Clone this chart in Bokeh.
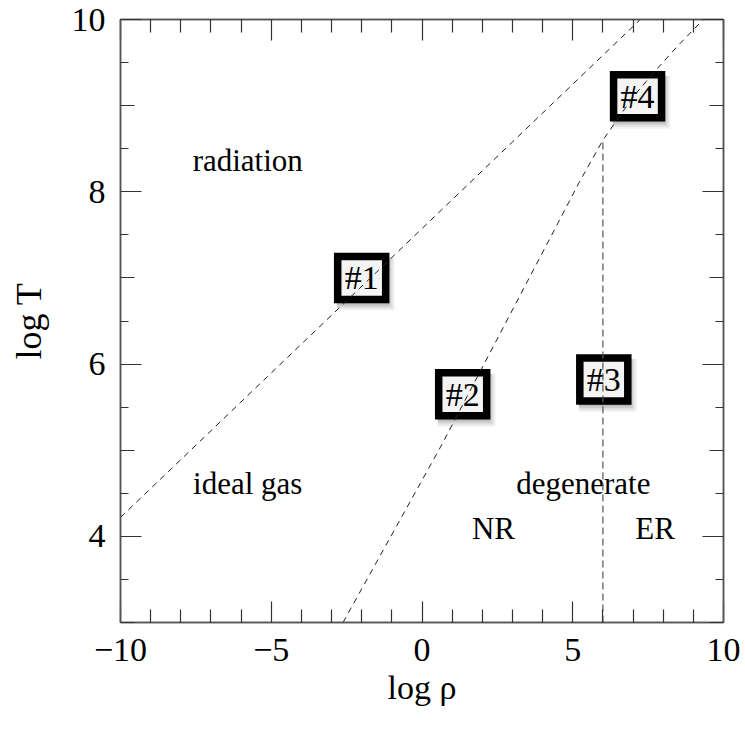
from bokeh.plotting import figure
from bokeh.models import LinearAxis, FixedTicker, Range1d, ColumnDataSource, CustomJSTickFormatter
from bokeh.core.properties import value
from bokeh.embed import file_html
from bokeh.resources import INLINE

# ---- data ----
x_major = [-10, -5, 0, 5, 10]
x_minor = [-9, -8, -7, -6, -4, -3, -2, -1, 1, 2, 3, 4, 6, 7, 8, 9]
y_major = [4, 6, 8, 10]
y_mid = [3, 5, 7, 9]
y_minor = [3.5, 4.5, 5.5, 6.5, 7.5, 8.5, 9.5]

# radiation / ideal gas boundary
lineA_x = [-10.0, 7.24]
lineA_y = [4.22, 10.0]
# ideal gas / degenerate boundary
lineB_x = [-2.62, 0.65, 4.2, 5.2, 6.0, 6.4, 7.0, 7.7, 8.5, 9.33]
lineB_y = [3.0, 5.06, 7.43, 8.1, 8.6, 8.8, 9.1, 9.39, 9.7, 10.0]
# NR / ER boundary
lineC_x = [6.0, 6.0]
lineC_y = [3.0, 8.6]

region_text = ["radiation", "ideal gas", "degenerate", "NR", "ER"]
region_x = [-5.78, -5.78, 5.35, 2.37, 7.73]
region_y = [8.36, 4.61, 4.61, 4.09, 4.09]

box_text = ["#1", "#2", "#3", "#4"]
box_x = [-2.0, 1.35, 6.03, 7.15]
box_y = [7.0, 5.65, 5.82, 9.11]

FONT_NAME = "Liberation Serif"
FONT = value(FONT_NAME)
TICK_COLOR = "#333333"
FRAME_COLOR = "#555555"

p = figure(width=745, height=730, x_range=Range1d(-10, 10), y_range=Range1d(3, 10),
           output_backend="svg", toolbar_location=None, y_axis_location=None,
           min_border_left=120, min_border_right=22, min_border_top=19, min_border_bottom=108)
p.grid.visible = False
p.outline_line_color = FRAME_COLOR
p.outline_line_width = 1.5
p.background_fill_color = "white"


def style_ticks(ax, major_in, minor_in):
    ax.major_tick_in = major_in
    ax.major_tick_out = 0
    ax.minor_tick_in = minor_in
    ax.minor_tick_out = 0
    ax.major_tick_line_color = TICK_COLOR
    ax.minor_tick_line_color = TICK_COLOR
    ax.major_tick_line_width = 1.2
    ax.minor_tick_line_width = 1.2


def blank_labels(ax):
    ax.formatter = CustomJSTickFormatter(code="return ''")
    ax.major_label_text_font_size = "1px"
    ax.major_label_standoff = 0
    ax.axis_label = None


# bottom (labelled)
xa = p.xaxis[0]
xa.ticker = FixedTicker(ticks=x_major, minor_ticks=x_minor)
style_ticks(xa, 21, 13)
xa.axis_line_color = FRAME_COLOR
xa.axis_line_width = 1.5
xa.major_label_text_font = FONT_NAME
xa.major_label_text_font_size = "34px"
xa.major_label_text_color = "black"
xa.major_label_standoff = 16
xa.axis_label = "log ρ"
xa.axis_label_text_font = FONT_NAME
xa.axis_label_text_font_style = "normal"
xa.axis_label_text_font_size = "34px"
xa.axis_label_text_color = "black"
xa.axis_label_standoff = 5
xa.major_label_overrides = {-10: "−10", -5: "−5"}

# top (mirror)
ta = LinearAxis(ticker=FixedTicker(ticks=x_major, minor_ticks=x_minor))
style_ticks(ta, 21, 13)
blank_labels(ta)
ta.axis_line_color = FRAME_COLOR
ta.axis_line_width = 1.5
p.add_layout(ta, "above")

# left/right: inner medium ticks (zero size), then the outer axes
for side in ["left", "right"]:
    mid = LinearAxis(ticker=FixedTicker(ticks=y_mid, minor_ticks=[]))
    style_ticks(mid, 14, 0)
    blank_labels(mid)
    mid.axis_line_color = FRAME_COLOR
    mid.axis_line_width = 1.5
    p.add_layout(mid, side)

ya = LinearAxis(ticker=FixedTicker(ticks=y_major, minor_ticks=y_minor))
style_ticks(ya, 21, 8)
ya.axis_line_color = None
ya.major_label_text_font = FONT_NAME
ya.major_label_text_font_size = "34px"
ya.major_label_text_color = "black"
ya.major_label_standoff = 15
ya.axis_label = "log T"
ya.axis_label_text_font = FONT_NAME
ya.axis_label_text_font_style = "normal"
ya.axis_label_text_font_size = "36px"
ya.axis_label_text_color = "black"
ya.axis_label_standoff = 20
p.add_layout(ya, "left")

ra = LinearAxis(ticker=FixedTicker(ticks=y_major, minor_ticks=y_minor))
style_ticks(ra, 21, 8)
blank_labels(ra)
ra.axis_line_color = None
p.add_layout(ra, "right")

# region labels
rsrc = ColumnDataSource(dict(x=region_x, y=region_y, t=region_text))
p.text(x="x", y="y", text="t", source=rsrc, text_font=FONT, text_font_size="31px",
       text_align="center", text_baseline="middle", text_color="black")

# boxes with soft shadow
bsrc = ColumnDataSource(dict(x=box_x, y=box_y, t=box_text))
for off, pad, alpha in [(6, (12, 8), 0.05), (5, (11, 7), 0.07), (4, (10, 6), 0.09), (3, (9, 5), 0.10)]:
    p.text(x="x", y="y", text="t", source=bsrc, text_font=FONT, text_font_size="34px",
           text_align="center", text_baseline="middle", text_alpha=0,
           x_offset=off - 2, y_offset=off,
           background_fill_color="black", background_fill_alpha=alpha,
           border_line_color=None, padding=pad)
p.text(x="x", y="y", text="t", source=bsrc, text_font=FONT, text_font_size="34px",
       text_align="center", text_baseline="middle", text_color="black",
       background_fill_color="#f4f4f4", border_line_color="black", border_line_width=7.5,
       border_line_join="miter", padding=(7, 3))

# boundaries
p.line(lineA_x, lineA_y, line_color="#222222", line_width=1, line_dash="6 5")
p.line(lineB_x, lineB_y, line_color="#222222", line_width=1, line_dash="6 5")
p.line(lineC_x, lineC_y, line_color="#555555", line_width=1.2, line_dash="7 4")

open("out.html", "w").write(file_html(p, INLINE))
